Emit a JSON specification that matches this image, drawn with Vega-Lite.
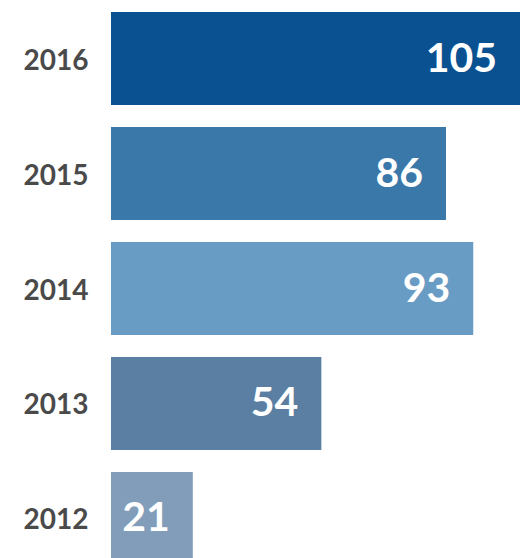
{
  "$schema": "https://vega.github.io/schema/vega-lite/v6.json",
  "autosize": "none",
  "padding": {"left": 111, "top": 0, "right": 0, "bottom": 0},
  "width": 409,
  "height": 558,
  "background": "white",
  "config": {"view": {"stroke": null}},
  "data": {"values": [
    {"year": "2016", "value": 105},
    {"year": "2015", "value": 86},
    {"year": "2014", "value": 93},
    {"year": "2013", "value": 54},
    {"year": "2012", "value": 21}
  ]},
  "encoding": {
    "y": {
      "field": "year", "type": "ordinal", "sort": "descending",
      "scale": {"range": [12, 565], "paddingInner": 0.19, "paddingOuter": 0},
      "axis": {"title": null, "domain": false, "ticks": false, "labelPadding": 23, "labelOffset": 3,
               "labelFont": "Lato", "labelFontSize": 28, "labelFontWeight": "bold",
               "labelColor": "#4a4a4a"}
    },
    "x": {
      "field": "value", "type": "quantitative",
      "scale": {"domain": [0, 105], "nice": false},
      "axis": null
    }
  },
  "layer": [
    {
      "mark": {"type": "bar"},
      "encoding": {
        "color": {
          "field": "year", "type": "nominal", "legend": null,
          "scale": {"domain": ["2016", "2015", "2014", "2013", "2012"],
                    "range": ["#0a5192", "#3b78aa", "#689cc4", "#5a7fa2", "#819dba"]}
        }
      }
    },
    {
      "mark": {"type": "text", "align": "right", "baseline": "middle", "dx": -23, "dy": 1,
               "font": "Lato", "fontSize": 41, "fontWeight": "bold", "color": "white"},
      "encoding": {"text": {"field": "value", "type": "quantitative"}}
    }
  ]
}
